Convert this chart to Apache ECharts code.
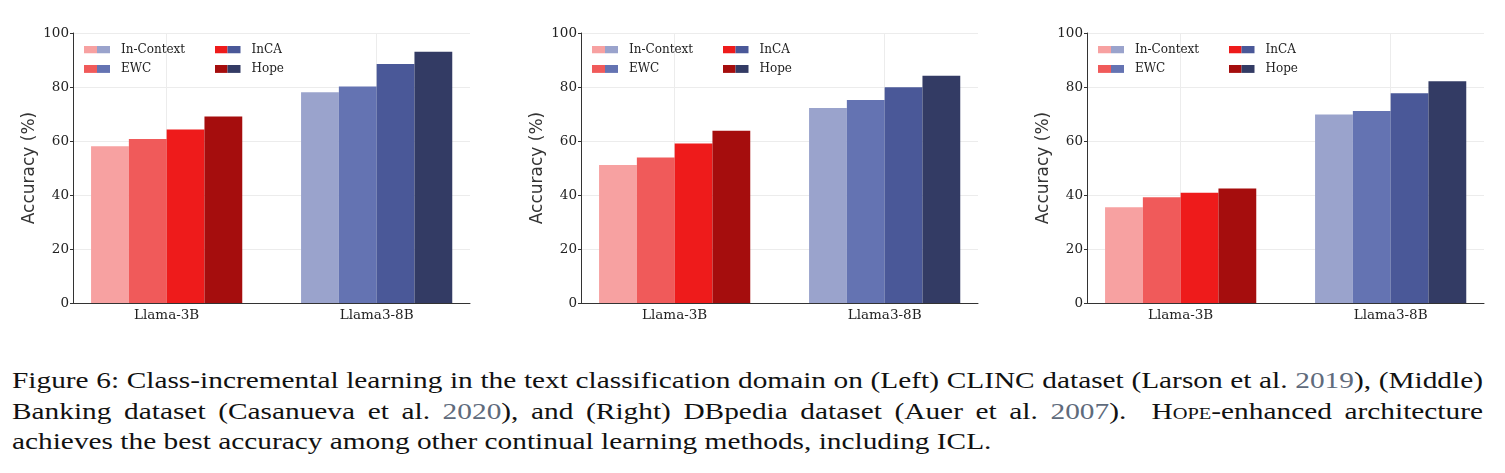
<!DOCTYPE html>
<html>
<head>
<meta charset="utf-8">
<script src="https://cdn.jsdelivr.net/npm/echarts@6/dist/echarts.min.js"></script>
<style>
  body { margin: 0; background: #fff; width: 1505px; height: 473px; overflow: hidden; position: relative; }
  #chart { position: absolute; left: 0; top: 0; width: 1505px; height: 340px; }
  #caption { position: absolute; left: 12px; top: 366px; font-family: "Liberation Serif", serif; font-size: 23px; line-height: 30.5px; color: #111; transform-origin: 0 0; }
  #caption div { white-space: nowrap; }
  #caption.ready .just { text-align: justify; text-align-last: justify; }
  .ref { color: #5f6b7c; }
  .sc { font-variant: small-caps; }
</style>
</head>
<body>
<div id="chart"></div>
<div id="caption">
  <div class="just"><span>Figure 6: Class-incremental learning in the text classification domain on (Left) CLINC dataset (Larson et al. <span class="ref">2019</span>), (Middle)</span></div>
  <div class="just"><span>Banking dataset (Casanueva et al. <span class="ref">2020</span>), and (Right) DBpedia dataset (Auer et al. <span class="ref">2007</span>). &nbsp;<span class="sc">Hope</span>-enhanced architecture</span></div>
  <div><span>achieves the best accuracy among other continual learning methods, including ICL.</span></div>
</div>
<script>
// categories and methods
var models = ['Llama-3B', 'Llama3-8B'];
var methods = ['In-Context', 'EWC', 'InCA', 'Hope'];
// accuracy (%) per method: [Llama-3B, Llama3-8B]
var clincData = [[58.1, 78.1], [60.7, 80.2], [64.3, 88.5], [69.1, 93.1]];
var bankingData = [[51.1, 72.2], [53.9, 75.2], [59.1, 79.9], [63.8, 84.2]];
var dbpediaData = [[35.5, 69.8], [39.2, 71.1], [40.8, 77.7], [42.4, 82.1]];
var yTicks = [0, 20, 40, 60, 80, 100];

var reds = ['#f7a1a1', '#f05a5a', '#ee1b1b', '#a50d0d'];
var blues = ['#9aa3cc', '#6473b2', '#4a5898', '#333b64'];

var panels = [clincData, bankingData, dbpediaData];
var axisLeft = [73, 581, 1087];   // where the visible axes start
var axisWidth = 397;
var bandWidth = 210;             // one category band, wider than the axis/2 like matplotlib xlim
var plotTop = 33, plotHeight = 270;

//two-colour legend swatch, drawn as a small svg
function swatch(c1, c2) {
    var svg = '<svg xmlns="http://www.w3.org/2000/svg" width="32" height="8">' +
        '<rect x="0" y="0" width="13" height="8" fill="' + c1 + '"/>' +
        '<rect x="13" y="0" width="13" height="8" fill="' + c2 + '"/></svg>';
    return 'image://data:image/svg+xml;charset=utf-8,' + encodeURIComponent(svg);
}

var serif = 'DejaVu Serif';
var grids = [], xAxes = [], yAxes = [], series = [], legends = [];

panels.forEach(function (data, p) {
    var L = axisLeft[p];
    var center0 = L + 0.446 * bandWidth;
    // grid for the bars (category bands)
    var gBars = grids.length;
    grids.push({ left: center0 - bandWidth / 2, top: plotTop, width: bandWidth * 2, height: plotHeight });
    xAxes.push({
        type: 'category',
        gridIndex: gBars,
        data: models,
        axisLine: { show: false },
        axisTick: { show: false },
        axisLabel: { fontFamily: serif, fontSize: 13.5, color: '#222', margin: 5 },
        splitLine: { show: true, alignWithLabel: true, lineStyle: { color: '#ececec', width: 1 } }
    });
    yAxes.push({
        type: 'value', gridIndex: gBars, min: 0, max: 100, interval: 20,
        show: false, splitLine: { show: false }
    });
    // grid for the visible frame: y axis, x axis line, horizontal grid
    var gFrame = grids.length;
    grids.push({ left: L, top: plotTop, width: axisWidth, height: plotHeight });
    xAxes.push({
        type: 'value', gridIndex: gFrame, min: 0, max: 1,
        axisLine: { show: true, lineStyle: { color: '#333', width: 1 } },
        axisTick: { show: false }, axisLabel: { show: false }, splitLine: { show: false }
    });
    yAxes.push({
        type: 'value',
        gridIndex: gFrame,
        min: yTicks[0],
        max: yTicks[yTicks.length - 1],
        interval: 20,
        name: 'Accuracy (%)',
        nameLocation: 'middle',
        nameGap: 35,
        nameTextStyle: { fontFamily: 'DejaVu Sans', fontSize: 17, color: '#333' },
        axisLine: { show: true, lineStyle: { color: '#333', width: 1 } },
        axisTick: { show: true, length: 3, lineStyle: { color: '#333' } },
        axisLabel: { fontFamily: serif, fontSize: 13.5, color: '#222', margin: 4 },
        splitLine: { show: true, lineStyle: { color: '#ececec', width: 1 } }
    });
    methods.forEach(function (m, k) {
        series.push({
            name: m,
            type: 'bar',
            xAxisIndex: gBars,
            yAxisIndex: gBars,
            barGap: '0%',
            barCategoryGap: '28%',
            z: 3,
            data: data[k].map(function (v, j) {
                return { value: v, itemStyle: { color: j === 0 ? reds[k] : blues[k] } };
            })
        });
    });
    // legend: two columns of two
    [[0, 1], [2, 3]].forEach(function (col, c) {
        legends.push({
            orient: 'vertical',
            left: L + 11 + c * 130.5,
            top: 43,
            padding: 0,
            itemGap: 6.4,
            itemWidth: 32,
            itemHeight: 8,
            selectedMode: false,
            textStyle: { fontFamily: serif, fontSize: 12, color: '#222', lineHeight: 13 },
            data: col.map(function (k) {
                return { name: methods[k], icon: swatch(reds[k], blues[k]) };
            })
        });
    });
});

var myChart = echarts.init(document.getElementById('chart'));
myChart.setOption({
    animation: false,
    grid: grids,
    xAxis: xAxes,
    yAxis: yAxes,
    legend: legends,
    series: series
});

//Caption: the original font is much wider than Times, so stretch it to the same line lengths
var cap = document.getElementById('caption');
var rows = cap.children;
var w = [];
for (var i = 0; i < rows.length; i++) {
    w.push(rows[i].firstElementChild.getBoundingClientRect().width);
}
var s = Math.min(1021 / w[2], 1466 / w[0], 1466 / w[1]);
for (var i = 0; i < 2; i++) {
    rows[i].style.width = (1471 / s) + 'px';
}
cap.style.transform = 'scaleX(' + s + ')';
cap.className = 'ready';
</script>
</body>
</html>
